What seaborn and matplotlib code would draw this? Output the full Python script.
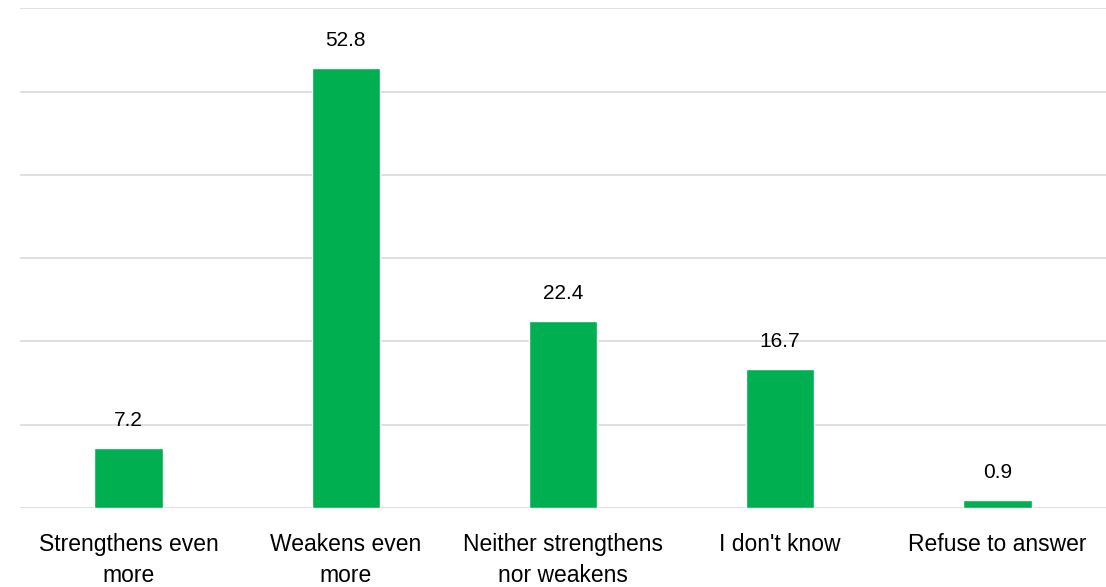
import matplotlib
matplotlib.use("Agg")
import matplotlib.pyplot as plt
import seaborn as sns
import pandas as pd

# Dados do gráfico
categorias = ["Strengthens even\nmore", "Weakens even\nmore", "Neither strengthens\nnor weakens",
              "I don't know", "Refuse to answer"]
valores = [7.2, 52.8, 22.4, 16.7, 0.9]

sns.set_theme(style="white")
plt.rcParams['font.family'] = ['Liberation Sans', 'DejaVu Sans']

df = pd.DataFrame({"categoria": categorias, "valor": valores})

fig = plt.figure(figsize=(11.06, 5.87), dpi=100)
ax = fig.add_axes([0.018, 0.1346, 0.982, 0.8512])

sns.barplot(data=df, x="categoria", y="valor", color="#00B050", width=0.315,
            saturation=1, ax=ax, zorder=3)

ax.set_ylim(0, 60)
ax.set_yticks(range(0, 61, 10))
ax.yaxis.grid(True, color="#D9D9D9", linewidth=1.2, zorder=0)
ax.tick_params(axis="y", left=False, labelleft=False)
ax.tick_params(axis="x", bottom=False, labelsize=16.5, pad=12, colors="#000000")
for lbl in ax.get_xticklabels():
    lbl.set_linespacing(1.45)
ax.set_xlabel("")
ax.set_ylabel("")
for s in ax.spines.values():
    s.set_visible(False)

for i, v in enumerate(valores):
    ax.text(i, v + 2.2, f"{v:.1f}", ha="center", va="bottom", fontsize=15, color="#000000")

fig.savefig("out.png", dpi=100)
